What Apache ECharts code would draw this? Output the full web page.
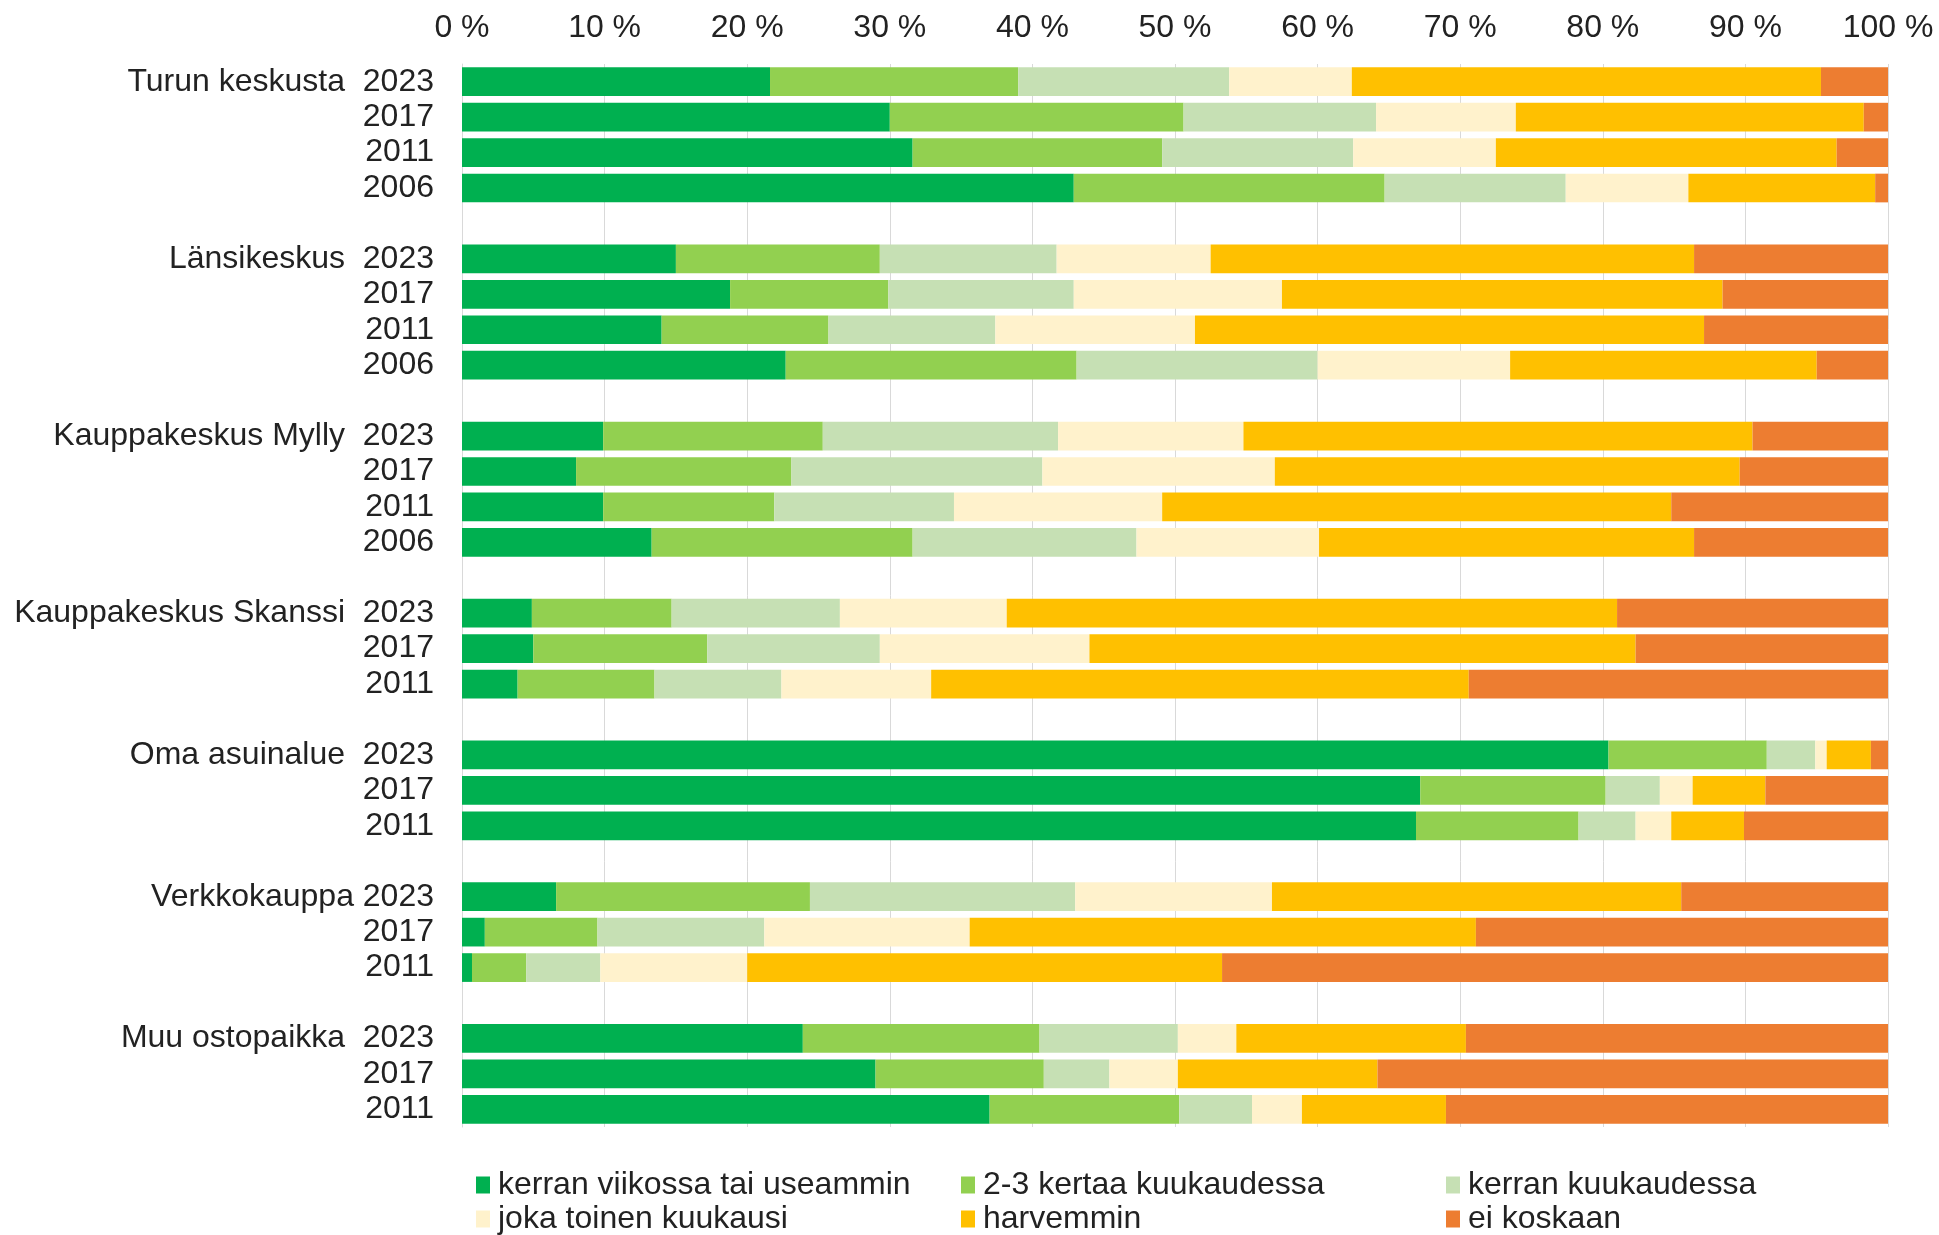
<!DOCTYPE html>
<html>
<head>
<meta charset="utf-8">
<script src="https://cdn.jsdelivr.net/npm/echarts@6/dist/echarts.min.js"></script>
<style>
  html, body { margin: 0; padding: 0; background: #fff; }
  #chart { width: 1939px; height: 1235px; }
</style>
</head>
<body>
<div id="chart"></div>
<script>
// groups and their survey years, top to bottom
var groups = ['Turun keskusta', 'Länsikeskus', 'Kauppakeskus Mylly', 'Kauppakeskus Skanssi', 'Oma asuinalue', 'Verkkokauppa', 'Muu ostopaikka'];
var groupYears = [
  ['2023', '2017', '2011', '2006'],
  ['2023', '2017', '2011', '2006'],
  ['2023', '2017', '2011', '2006'],
  ['2023', '2017', '2011'],
  ['2023', '2017', '2011'],
  ['2023', '2017', '2011'],
  ['2023', '2017', '2011']
];

var seriesNames = ['kerran viikossa tai useammin', '2-3 kertaa kuukaudessa', 'kerran kuukaudessa',
  'joka toinen kuukausi', 'harvemmin', 'ei koskaan'];
var colors = ['#00b050', '#92d050', '#c6e0b4', '#fff2cc', '#ffc000', '#ed7d31'];

// % shares, one value per bar in the same order as groups/years
var weekly     = [21.6, 30.0, 31.6, 42.9, 15.0, 18.8, 14.0, 22.7, 9.9, 8.0, 9.9, 13.3, 4.9, 5.0, 3.9, 80.4, 67.2, 66.9, 6.6, 1.6, 0.7, 23.9, 29.0, 37.0];
var twoThree   = [17.4, 20.6, 17.5, 21.8, 14.3, 11.1, 11.7, 20.4, 15.4, 15.1, 12.0, 18.3, 9.8, 12.2, 9.6, 11.1, 13.0, 11.4, 17.8, 7.9, 3.8, 16.6, 11.8, 13.3];
var monthly    = [14.8, 13.5, 13.4, 12.7, 12.4, 13.0, 11.7, 16.9, 16.5, 17.6, 12.6, 15.7, 11.8, 12.1, 8.9, 3.4, 3.8, 4.0, 18.6, 11.7, 5.2, 9.7, 4.6, 5.1];
var everyOther = [8.6, 9.8, 10.0, 8.6, 10.8, 14.6, 14.0, 13.5, 13.0, 16.3, 14.6, 12.8, 11.7, 14.7, 10.5, 0.8, 2.3, 2.5, 13.8, 14.4, 10.3, 4.1, 4.8, 3.5];
var rarely     = [32.9, 24.4, 23.9, 13.1, 33.9, 30.9, 35.7, 21.5, 35.7, 32.6, 35.7, 26.3, 42.8, 38.3, 37.7, 3.1, 5.1, 5.1, 28.7, 35.5, 33.3, 16.1, 14.0, 10.1];
var never      = [4.7, 1.7, 3.6, 0.9, 13.6, 11.6, 12.9, 5.0, 9.5, 10.4, 15.2, 13.6, 19.0, 17.7, 29.4, 1.2, 8.6, 10.1, 14.5, 28.9, 46.7, 29.6, 35.8, 31.0];
var values = [weekly, twoThree, monthly, everyOther, rarely, never];

var xTicks = [0, 10, 20, 30, 40, 50, 60, 70, 80, 90, 100];

var font = "'Liberation Sans', Arial, sans-serif";
var textColor = '#222222';
var gridColor = '#d9d9d9';

// build rows with an empty row between groups
var rowKeys = [];
var rowLabels = [];
var rowIndex = []; // index into value arrays, -1 for spacer rows
var k = 0;
groups.forEach(function(g, gi) {
  if (gi > 0) {
    rowKeys.push('gap' + gi);
    rowLabels.push('');
    rowIndex.push(-1);
  }
  groupYears[gi].forEach(function(y, yi) {
    rowKeys.push(g + ' ' + y);
    var sep = g === 'Verkkokauppa' ? ' ' : '  ';
    rowLabels.push(yi === 0 ? g + sep + y : y);
    rowIndex.push(k);
    k++;
  });
});

var series = seriesNames.map(function(name, si) {
  return {
    name: name,
    type: 'bar',
    stack: 'total',
    barCategoryGap: '19%',
    itemStyle: { color: colors[si] },
    data: rowIndex.map(function(ri) { return ri < 0 ? '-' : values[si][ri]; })
  };
});

// legend: 3 columns x 2 rows, one legend per item so columns line up
var legendLefts = [476, 961, 1446];
var legendTops = [1169, 1203];
var legends = seriesNames.map(function(name, i) {
  return {
    left: legendLefts[i % 3],
    top: legendTops[Math.floor(i / 3)],
    padding: 0,
    itemWidth: 14,
    itemHeight: 17,
    icon: 'rect',
    data: [name],
    textStyle: { fontFamily: font, fontSize: 32, color: textColor, padding: [0, 0, 0, 3] }
  };
});

var chart = echarts.init(document.getElementById('chart'), null, { renderer: 'canvas' });
chart.setOption({
  animation: false,
  backgroundColor: '#ffffff',
  grid: { left: 462, right: 51, top: 64, bottom: 108, containLabel: false },
  legend: legends,
  xAxis: {
    type: 'value',
    position: 'top',
    min: 0,
    max: 100,
    interval: 10,
    axisLine: { show: false },
    axisTick: { show: false },
    axisLabel: {
      fontFamily: font, fontSize: 32, color: textColor, margin: 20,
      formatter: function(v) { return xTicks.indexOf(v) >= 0 ? v + ' %' : ''; }
    },
    splitLine: { show: true, lineStyle: { color: gridColor, width: 1 } }
  },
  yAxis: {
    type: 'category',
    inverse: true,
    data: rowKeys,
    axisLine: { show: true, lineStyle: { color: gridColor } },
    axisTick: { show: false },
    axisLabel: {
      fontFamily: font, fontSize: 32, color: textColor, margin: 28, interval: 0,
      formatter: function(v, i) { return rowLabels[i]; }
    }
  },
  series: series
});
</script>
</body>
</html>
